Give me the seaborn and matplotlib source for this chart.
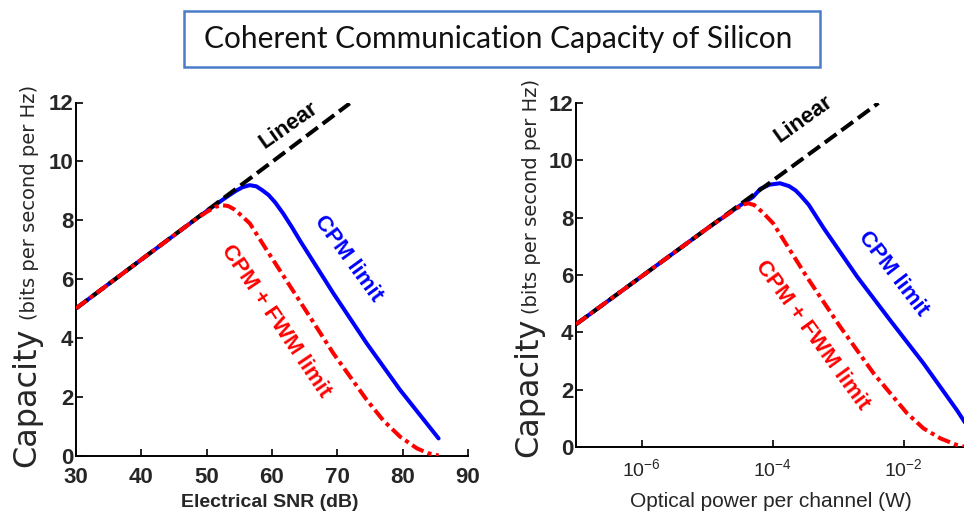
import matplotlib
matplotlib.use("Agg")
import matplotlib.pyplot as plt
from matplotlib import font_manager
from matplotlib.patches import Rectangle
import numpy as np
import pandas as pd
import seaborn as sns

# ---------------- data ----------------
# Left panel: Electrical SNR (dB)
snr_linear = [30, 40, 50, 60, 71.9]
cap_linear_snr = [5.0, 6.66, 8.32, 9.98, 11.97]

snr_cpm = [30, 40, 50, 53, 54.5, 55.5, 56.6, 57.6, 58.5, 59.5, 60.5, 61.7, 63, 64.3,
           69.4, 74.5, 79.6, 85.5]
cap_cpm_snr = [5.0, 6.66, 8.31, 8.78, 9.0, 9.12, 9.19, 9.15, 9.02, 8.85, 8.6, 8.23, 7.78,
               7.3, 5.51, 3.81, 2.23, 0.58]

snr_fwm = [30, 40, 48, 50, 51.3, 52.3, 53.3, 54.2, 55.1, 56.6, 59.2, 64.3, 69.4, 74.5,
           77, 79.6, 82.2, 84, 85.5]
cap_fwm_snr = [5.0, 6.66, 7.98, 8.28, 8.45, 8.51, 8.48, 8.37, 8.2, 7.89, 6.98, 5.23,
               3.47, 1.89, 1.2, 0.64, 0.24, 0.07, 0.0]

# Right panel: Optical power per channel (W)
pow_linear = [1e-7, 1e-6, 1e-5, 1e-4, 1e-3, 4.12e-3]
cap_linear_pow = [4.28, 5.95, 7.62, 9.29, 10.96, 12.0]

pow_cpm = [1e-7, 1e-6, 1e-5, 3.16e-5, 5.01e-5, 6.46e-5, 8.91e-5, 1.30e-4, 1.78e-4,
           2.24e-4, 2.63e-4, 3.55e-4, 6.03e-4, 1.95e-3, 6.17e-3, 2.00e-2, 6.46e-2, 8.91e-2]
cap_cpm_pow = [4.28, 5.95, 7.62, 8.42, 8.72, 9.0, 9.15, 9.20, 9.10, 8.95, 8.79, 8.45,
               7.63, 5.94, 4.43, 2.92, 1.29, 0.8]

pow_fwm = [1e-7, 1e-6, 1e-5, 2.51e-5, 3.55e-5, 4.27e-5, 5.25e-5, 7.08e-5, 1.02e-4,
           3.31e-4, 1.07e-3, 3.47e-3, 1.12e-2, 2.00e-2, 3.63e-2, 6.46e-2, 8.91e-2]
cap_fwm_pow = [4.28, 5.95, 7.62, 8.25, 8.46, 8.50, 8.44, 8.18, 7.80,
               5.94, 4.20, 2.57, 1.18, 0.65, 0.30, 0.07, 0.0]

snr_ticks = [30, 40, 50, 60, 70, 80, 90]
cap_ticks = [0, 2, 4, 6, 8, 10, 12]
pow_ticks = [1e-6, 1e-4, 1e-2]
pow_tick_labels = [r"$\mathregular{10^{-6}}$", r"$\mathregular{10^{-4}}$", r"$\mathregular{10^{-2}}$"]

title_text = "Coherent Communication Capacity of Silicon"

# ---------------- style ----------------
sns.set_theme(style="white")


def has_font(name):
    try:
        font_manager.findfont(font_manager.FontProperties(family=name), fallback_to_default=False)
        return True
    except Exception:
        return False

NARROW = has_font("Liberation Sans Narrow")
narrow_fam = ["Liberation Sans Narrow", "Liberation Sans"] if NARROW else ["Liberation Sans"]
tick_fs = 18 if NARROW else 16
ann_fs = 18 if NARROW else 16

plt.rcParams["font.family"] = ["Liberation Sans", "DejaVu Sans"]
plt.rcParams["mathtext.default"] = "regular"

BLUE = "#0000FF"
RED = "#FF0000"
BLACK = "#000000"
LW = 2.9

W, H = 964, 512
fig = plt.figure(figsize=(W / 100, H / 100), dpi=100)


def px_box(x0, x1, ytop, ybot):
    return [x0 / W, (H - ybot) / H, (x1 - x0) / W, (ybot - ytop) / H]

axL = fig.add_axes(px_box(76, 468, 102.5, 455.5))
axR = fig.add_axes(px_box(576, 964, 103, 447))

dfs = {
    "L_lin": pd.DataFrame({"x": snr_linear, "y": cap_linear_snr}),
    "L_cpm": pd.DataFrame({"x": snr_cpm, "y": cap_cpm_snr}),
    "L_fwm": pd.DataFrame({"x": snr_fwm, "y": cap_fwm_snr}),
    "R_lin": pd.DataFrame({"x": pow_linear, "y": cap_linear_pow}),
    "R_cpm": pd.DataFrame({"x": pow_cpm, "y": cap_cpm_pow}),
    "R_fwm": pd.DataFrame({"x": pow_fwm, "y": cap_fwm_pow}),
}

dash_style = (0, (3.6, 1.5))
dashdot_style = (0, (3.2, 1.1, 1.0, 1.1))

axR.set_xscale("log")
for ax, side in ((axL, "L"), (axR, "R")):
    sns.lineplot(data=dfs[side + "_cpm"], x="x", y="y", ax=ax, color=BLUE, linewidth=LW,
                 estimator=None, sort=False, zorder=2)
    sns.lineplot(data=dfs[side + "_lin"], x="x", y="y", ax=ax, color=BLACK, linewidth=LW,
                 estimator=None, sort=False, zorder=3, linestyle=dash_style)
    sns.lineplot(data=dfs[side + "_fwm"], x="x", y="y", ax=ax, color=RED, linewidth=LW,
                 estimator=None, sort=False, zorder=4, linestyle=dashdot_style)

    ax.set_ylim(0, 12)
    ax.set_yticks(cap_ticks)
    ax.set_xlabel("")
    ax.set_ylabel("")
    for s in ("top", "right"):
        ax.spines[s].set_visible(False)
    for s in ("left", "bottom"):
        ax.spines[s].set_color("black")
        ax.spines[s].set_linewidth(1.4)
    ax.tick_params(axis="both", which="major", direction="in", length=5, width=1.2,
                   color="black", bottom=True, left=True)
    ax.tick_params(axis="both", which="minor", bottom=False, left=False, length=0)
    ax.patch.set_alpha(0)
    for lab in ax.get_yticklabels():
        lab.set_fontfamily(narrow_fam)
        lab.set_fontweight("bold")
        lab.set_fontsize(tick_fs)
    ax.tick_params(axis="y", pad=2)

# left x axis
axL.set_xlim(30, 90)
axL.set_xticks(snr_ticks)
axL.set_xticklabels([str(t) for t in snr_ticks], fontfamily=narrow_fam, fontweight="bold",
                    fontsize=tick_fs)
axL.tick_params(axis="x", pad=8.5)

# right x axis
axR.set_xlim(1e-7, 10 ** -1.08)
axR.set_xticks(pow_ticks)
axR.set_xticklabels(pow_tick_labels, fontfamily=["Liberation Sans"], fontsize=14)
axR.xaxis.set_minor_locator(matplotlib.ticker.NullLocator())
axR.tick_params(axis="x", pad=8)

# axis labels
fig.text(270 / W, (H - 507) / H, "Electrical SNR (dB)", ha="center", va="baseline",
         fontsize=14, fontweight="bold", fontfamily=["Liberation Sans"])
fig.text(771 / W, (H - 507) / H, "Optical power per channel (W)", ha="center", va="baseline",
         fontsize=15, fontfamily=["Liberation Sans"])

for xb, ystart, ypar in ((35, 467, 320), (537, 457, 314)):
    fig.text(xb / W, (H - ystart) / H, "Capacity", rotation=90, rotation_mode="anchor",
             ha="left", va="baseline", fontsize=23, fontfamily=["DejaVu Sans"])
    fig.text(xb / W, (H - ypar) / H, "(bits per second per Hz)", rotation=90,
             rotation_mode="anchor", ha="left", va="baseline", fontsize=14,
             fontfamily=["DejaVu Sans"])

# curve annotations
ann = dict(fontfamily=narrow_fam, fontweight="bold", fontsize=ann_fs, ha="center", va="center",
           rotation_mode="anchor")
axL.text(62.5, 11.21, "Linear", color=BLACK, rotation=35, **ann)
axL.text(71.7, 6.70, "CPM limit", color=BLUE, rotation=-54, **ann)
axL.text(60.56, 4.55, "CPM + FWM limit", color=RED, rotation=-56, **ann)
axR.text(10 ** -3.53, 11.44, "Linear", color=BLACK, rotation=35.5, **ann)
axR.text(10 ** -2.156, 6.03, "CPM limit", color=BLUE, rotation=-52.5, **ann)
axR.text(10 ** -3.39, 3.88, "CPM + FWM limit", color=RED, rotation=-54, **ann)

# title box
fig.patches.append(Rectangle((184 / W, (H - 67) / H), (820 - 184) / W, (67 - 11) / H,
                             transform=fig.transFigure, fill=True, facecolor="white",
                             edgecolor="#4A7CC9", linewidth=1.8))
fig.text(498.5 / W, (H - 48) / H, title_text, ha="center", va="baseline", fontsize=21.5,
         fontfamily=["Lato", "DejaVu Sans"], color="#111111")

fig.savefig("out.png", dpi=100)
